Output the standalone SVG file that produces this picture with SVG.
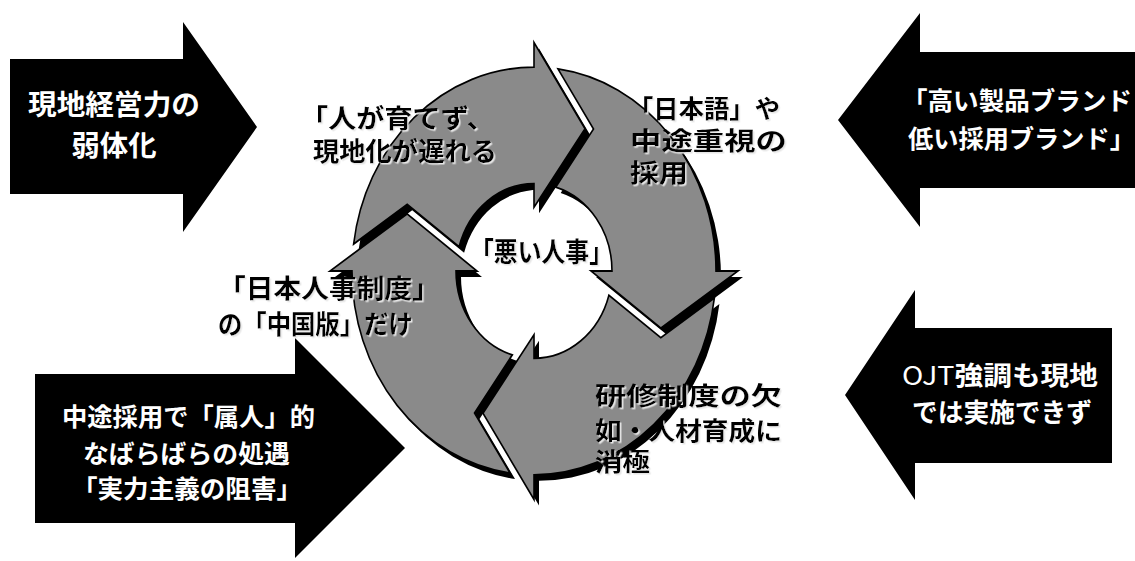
<svg xmlns="http://www.w3.org/2000/svg" xmlns:xlink="http://www.w3.org/1999/xlink" width="1135" height="561" viewBox="0 0 1135 561">
<style>
.blk{fill:#000}
.wt{fill:#fff;font-family:"Noto Sans CJK JP","Noto Sans",sans-serif;font-weight:bold}
.rt{fill:#000;font-family:"Noto Sans CJK JP","Noto Sans",sans-serif;font-weight:bold;filter:url(#ts)}
.seg{fill:#8a8a8a;stroke:#000;stroke-width:1.6;stroke-linejoin:miter}
.shd{fill:#000}
</style>
<defs>
<filter id="ts" x="-5%" y="-20%" width="110%" height="140%">
<feDropShadow dx="1.5" dy="1.5" stdDeviation="0.4" flood-color="#e6e6e6" flood-opacity="1"/>
</filter>
<path id="arr" d="M -180.4,-24.0 A 182 182 0 0 1 0,-182 L 0,-204 L 51,-127 L 0,-57 L 0,-78 A 78 78 0 0 0 -74.9,-21.7 L -126.8,-59.5 Z"/>
</defs>
<rect width="1135" height="561" fill="#fff"/>

<g id="arrow-top-left">
<polygon class="blk" points="10,59 183,59 183,22 257,127 183,232 183,194 10,194"/>
<text class="wt" font-size="28" x="114" y="115" text-anchor="middle" textLength="172" lengthAdjust="spacingAndGlyphs">現地経営力の</text>
<text class="wt" font-size="28" x="114" y="156" text-anchor="middle" textLength="85" lengthAdjust="spacingAndGlyphs">弱体化</text>
</g>

<g id="arrow-top-right">
<polygon class="blk" points="1135,52 920,52 920,13 838,120 920,227 920,188 1135,188"/>
<text class="wt" font-size="25" x="902" y="110" textLength="230" lengthAdjust="spacingAndGlyphs">「高い製品ブランド</text>
<text class="wt" font-size="25" x="908" y="148" textLength="227" lengthAdjust="spacingAndGlyphs">低い採用ブランド」</text>
</g>

<g id="arrow-bottom-left">
<polygon class="blk" points="35,374 295,374 295,338 405,448 295,558 295,523 35,523"/>
<text class="wt" font-size="25" x="62" y="426" textLength="253" lengthAdjust="spacingAndGlyphs">中途採用で「属人」的</text>
<text class="wt" font-size="25" x="83" y="463" textLength="207" lengthAdjust="spacingAndGlyphs">なばらばらの処遇</text>
<text class="wt" font-size="25" x="72" y="498" textLength="230" lengthAdjust="spacingAndGlyphs">「実力主義の阻害」</text>
</g>

<g id="arrow-bottom-right">
<polygon class="blk" points="1112,328 915,328 915,290 845,395 915,500 915,463 1112,463"/>
<text class="wt" font-size="26" x="902" y="385" textLength="196" lengthAdjust="spacingAndGlyphs"><tspan font-weight="normal">OJT</tspan>強調も現地</text>
<text class="wt" font-size="26" x="912" y="422" textLength="180" lengthAdjust="spacingAndGlyphs">では実施できず</text>
</g>

<g id="cycle">
<g id="cycle-shadow" transform="translate(539,277) scale(1,1.12)">
<use xlink:href="#arr" class="shd"/>
<use xlink:href="#arr" class="shd" transform="rotate(90)"/>
<use xlink:href="#arr" class="shd" transform="rotate(180)"/>
<use xlink:href="#arr" class="shd" transform="rotate(270)"/>
</g>
<g transform="translate(534,271) scale(1,1.12)">
<g id="seg-a"><use xlink:href="#arr" class="seg" vector-effect="non-scaling-stroke"/></g>
<g id="seg-b"><use xlink:href="#arr" class="seg" transform="rotate(90)"/></g>
<g id="seg-c"><use xlink:href="#arr" class="seg" transform="rotate(180)"/></g>
<g id="seg-d"><use xlink:href="#arr" class="seg" transform="rotate(270)"/></g>
</g>
</g>

<g id="label-a">
<text class="rt" font-size="26" x="300" y="128" textLength="195" lengthAdjust="spacingAndGlyphs">「人が育てず、</text>
<text class="rt" font-size="26" x="313" y="161" textLength="184" lengthAdjust="spacingAndGlyphs">現地化が遅れる</text>
</g>
<g id="label-b">
<text class="rt" font-size="25" x="628" y="118" textLength="152" lengthAdjust="spacingAndGlyphs">「日本語」や</text>
<text class="rt" font-size="25" x="630" y="150" textLength="157" lengthAdjust="spacingAndGlyphs">中途重視の</text>
<text class="rt" font-size="25" x="630" y="182" textLength="58" lengthAdjust="spacingAndGlyphs">採用</text>
</g>
<g id="label-c">
<text class="rt" font-size="25" x="595" y="405" textLength="187" lengthAdjust="spacingAndGlyphs">研修制度の欠</text>
<text class="rt" font-size="25" x="595" y="440" textLength="187" lengthAdjust="spacingAndGlyphs">如・人材育成に</text>
<text class="rt" font-size="25" x="595" y="471" textLength="55" lengthAdjust="spacingAndGlyphs">消極</text>
</g>
<g id="label-d">
<text class="rt" font-size="26" x="218" y="298" textLength="222" lengthAdjust="spacingAndGlyphs">「日本人事制度」</text>
<text class="rt" font-size="26" x="218" y="334" textLength="195" lengthAdjust="spacingAndGlyphs">の「中国版」だけ</text>
</g>
<g id="label-center">
<text class="rt" font-size="27" x="470" y="262" textLength="143" lengthAdjust="spacingAndGlyphs">「悪い人事」</text>
</g>
</svg>
